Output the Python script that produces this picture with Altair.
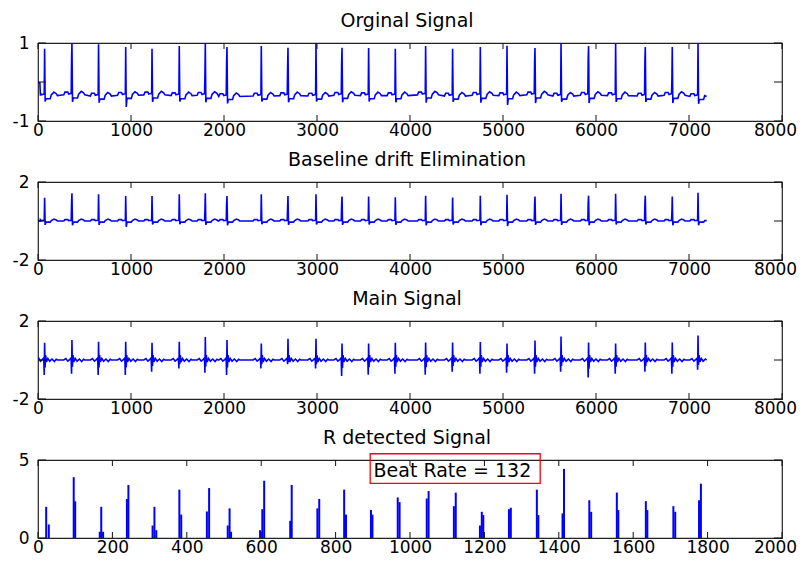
import altair as alt
import pandas as pd

# ---------------- data ----------------
beat_pos = [71, 365, 651, 943, 1226, 1519, 1799, 2032, 2401, 2688, 2989, 3269, 3555,
            3842, 4168, 4458, 4756, 5043, 5344, 5624, 5920, 6211, 6530, 6820, 7097]

# Panel 1: original signal
orig_r = [0.85, 1.0, 0.97, 0.9, 0.85, 0.92, 1.0, 0.9, 0.92, 0.88, 1.0, 0.88, 0.87,
          0.85, 0.92, 0.85, 0.9, 0.93, 0.87, 1.0, 0.92, 1.0, 0.9, 0.9, 1.0]
orig_knee = [-0.3, 0.6, -0.3, -0.3, -0.3, -0.3, 0.2, 0.5, -0.3, 0.38, -0.3, 0.52, -0.3,
             -0.3, -0.3, -0.3, -0.3, -0.3, 0.56, -0.3, 0.6, -0.3, 0.55, 0.05, -0.3]
orig_s = [-0.5, -0.51, -0.53, -0.64, -0.51, -0.5, -0.52, -0.55, -0.5, -0.52, -0.5, -0.52, -0.5,
          -0.52, -0.53, -0.51, -0.53, -0.59, -0.54, -0.51, -0.54, -0.51, -0.51, -0.54, -0.56]
orig_base = [-0.35, -0.33, -0.36, -0.34, -0.33, -0.35, -0.34, -0.37, -0.36, -0.35, -0.36, -0.34, -0.35,
             -0.35, -0.33, -0.36, -0.34, -0.35, -0.33, -0.36, -0.34, -0.35, -0.36, -0.34, -0.37]

# Panel 2: baseline drift elimination
base_r = [1.19, 1.42, 1.37, 1.28, 1.28, 1.37, 1.42, 1.28, 1.37, 1.28, 1.37, 1.25, 1.25,
          1.22, 1.3, 1.2, 1.3, 1.35, 1.25, 1.4, 1.3, 1.4, 1.3, 1.25, 1.45]
base_s = [-0.2, -0.22, -0.2, -0.3, -0.18, -0.17, -0.2, -0.22, -0.17, -0.2, -0.18, -0.2, -0.18,
          -0.2, -0.22, -0.18, -0.22, -0.26, -0.2, -0.2, -0.22, -0.18, -0.18, -0.22, -0.22]

# Panel 3: main signal
main_r = [0.89, 1.03, 0.94, 0.94, 0.89, 0.94, 1.18, 1.03, 0.85, 1.09, 1.09, 0.85, 0.85,
          0.89, 0.9, 0.9, 0.92, 0.85, 1.0, 1.2, 0.9, 0.85, 0.9, 0.9, 1.25]
main_s = [-0.77, -0.7, -0.77, -0.77, -0.6, -0.43, -0.65, -0.77, -0.43, -0.22, -0.43, -0.82, -0.75,
          -0.7, -0.75, -0.6, -0.7, -0.65, -0.7, -0.6, -0.9, -0.7, -0.6, -0.7, -0.5]

# Panel 4: R detected signal (downsampled index, amplitude)
det_x = [22, 29, 96, 100, 166, 170, 175, 239, 243, 308, 313, 318, 380, 385, 454, 460,
         510, 515, 519, 597, 603, 608, 678, 682, 751, 756, 823, 828, 895, 899, 967, 972,
         1045, 1050, 1118, 1123, 1188, 1193, 1197, 1266, 1271, 1341, 1345, 1410, 1414,
         1482, 1487, 1556, 1560, 1634, 1638, 1708, 1713, 1777, 1782]
det_y = [2.0, 0.87, 3.9, 2.35, 0.4, 2.0, 0.4, 2.5, 3.4, 0.8, 2.0, 0.5, 3.1, 1.5, 1.7, 3.2,
         0.8, 1.9, 0.4, 0.5, 1.85, 3.67, 1.1, 3.4, 1.9, 2.5, 3.1, 1.5, 1.8, 1.5, 2.6, 2.3,
         2.53, 3.01, 2.04, 2.91, 0.8, 1.68, 1.47, 1.85, 1.94, 3.1, 1.47, 1.58, 4.43,
         2.42, 1.68, 2.91, 1.79, 2.36, 1.79, 2.04, 1.68, 2.42, 3.48]

titles = ["Orginal Signal", "Baseline drift Elimination", "Main Signal", "R detected Signal"]
x_ticks_long = [0, 1000, 2000, 3000, 4000, 5000, 6000, 7000, 8000]
x_ticks_short = [0, 200, 400, 600, 800, 1000, 1200, 1400, 1600, 1800, 2000]
y_ticks = [[-1, 0, 1], [-2, 0, 2], [-2, 0, 2], [0, 5]]
signal_len = 7200

annot_text = ["Beat Rate = 132"]
annot_x = [902]
annot_y = [4.3]
annot_box = [893, 1350, 3.5, 5.4]   # x1, x2, y1, y2 in data units

# ---------------- build tables ----------------
def ecg_original():
    pts = [(0, -0.02), (20, -0.02), (26, orig_base[0])]
    for p, r, k, s, b in zip(beat_pos, orig_r, orig_knee, orig_s, orig_base):
        kk = k if k > b else b
        seg = [(p - 88, b), (p - 75, b + 0.07), (p - 45, b + 0.07), (p - 35, b + 0.02),
               (p - 8, b + 0.04), (p - 4, kk), (p, r), (p + 6, s), (p + 14, b - 0.08),
               (p + 60, b - 0.08), (p + 72, b + 0.02), (p + 100, b + 0.09),
               (p + 125, b + 0.05), (p + 138, b)]
        pts += seg
    pts = [q for q in pts if q[0] <= signal_len - 20 and (q[0] >= 26 or q[0] in (0, 20))]
    pts.append((signal_len - 10, orig_base[-1]))
    return pd.DataFrame(pts, columns=["x", "y"])


def ecg_baseline():
    pts = [(0, 0.02), (26, 0.0)]
    for p, r, k, s, b in zip(beat_pos, base_r, orig_knee, base_s, orig_base):
        kk = (k - b) if k > b else 0.0
        seg = [(p - 88, 0.0), (p - 75, 0.07), (p - 45, 0.07), (p - 35, 0.02),
               (p - 8, 0.04), (p - 4, kk), (p, r), (p + 6, s), (p + 14, -0.06),
               (p + 60, -0.06), (p + 72, 0.02), (p + 100, 0.1), (p + 125, 0.05), (p + 138, 0.0)]
        pts += seg
    pts = [q for q in pts if q[0] <= signal_len - 20 and (q[0] >= 26 or q[0] == 0)]
    pts.append((signal_len - 10, 0.02))
    return pd.DataFrame(pts, columns=["x", "y"])


def ecg_main():
    pts = [(0, 0.15), (20, 0.0)]
    for p, r, s in zip(beat_pos, main_r, main_s):
        seg = [(p - 88, 0.0), (p - 65, 0.07), (p - 45, -0.06), (p - 25, 0.02),
               (p - 9, 0.1), (p - 4, s), (p, r), (p + 5, s * 0.5), (p + 11, 0.25),
               (p + 20, -0.1), (p + 35, 0.08), (p + 55, -0.06), (p + 80, 0.05),
               (p + 105, -0.08), (p + 125, 0.04), (p + 138, 0.0)]
        pts += seg
    pts = [q for q in pts if q[0] <= signal_len - 20 and (q[0] >= 20 or q[0] == 0)]
    pts.append((signal_len - 10, 0.0))
    return pd.DataFrame(pts, columns=["x", "y"])


W, H = 744, 78
FONT = "DejaVu Sans"
BLUE = "#0000FF"
LABEL_EXPR = "'' + datum.value"


def frame_ticks(xt, yt):
    dx = pd.DataFrame({"v": xt})
    dy = pd.DataFrame({"v": yt})
    xs = alt.Scale(domain=[xt[0], xt[-1]], nice=False, zero=False)
    ys = alt.Scale(domain=[yt[0], yt[-1]], nice=False, zero=False)
    bot = alt.Chart(dx).mark_rule(color="#111", strokeWidth=1).encode(
        x=alt.X("v:Q", scale=xs), y=alt.value(H), y2=alt.value(H - 6))
    top = alt.Chart(dx).mark_rule(color="#111", strokeWidth=1).encode(
        x=alt.X("v:Q", scale=xs), y=alt.value(0), y2=alt.value(6))
    lef = alt.Chart(dy).mark_rule(color="#111", strokeWidth=1).encode(
        y=alt.Y("v:Q", scale=ys), x=alt.value(0), x2=alt.value(8))
    rig = alt.Chart(dy).mark_rule(color="#111", strokeWidth=1).encode(
        y=alt.Y("v:Q", scale=ys), x=alt.value(W), x2=alt.value(W - 8))
    return [bot, top, lef, rig]


def title_mark(t):
    return alt.Chart(pd.DataFrame({"t": [t]})).mark_text(
        font=FONT, fontSize=19, align="center", baseline="alphabetic", color="black"
    ).encode(x=alt.value(W / 2 - 3), y=alt.value(-16), text="t:N")


def axis(values, last_shift=False):
    kw = dict(values=values, title=None, labelExpr=LABEL_EXPR,
              labelFlush=False, labelOverlap=False, labelBound=False)
    if last_shift:
        kw["labelOffset"] = {"condition": {"test": "datum.value === %d" % values[-1], "value": -7},
                             "value": 0}
    return alt.Axis(**kw)


def signal_panel(df, t, yt):
    xs = alt.Scale(domain=[0, 8000], nice=False, zero=False)
    ys = alt.Scale(domain=[yt[0], yt[-1]], nice=False, zero=False)
    line = alt.Chart(df).mark_line(color=BLUE, strokeWidth=1.6, clip=True).encode(
        x=alt.X("x:Q", scale=xs, axis=axis(x_ticks_long, True)),
        y=alt.Y("y:Q", scale=ys, axis=axis(yt)),
    )
    return alt.layer(line, *frame_ticks(x_ticks_long, yt), title_mark(t)).properties(
        width=W, height=H)


p1 = signal_panel(ecg_original(), titles[0], y_ticks[0])
p2 = signal_panel(ecg_baseline(), titles[1], y_ticks[1])
p3 = signal_panel(ecg_main(), titles[2], y_ticks[2])

det_df = pd.DataFrame({"x": det_x, "y": det_y, "z": [0] * len(det_x)})
xs4 = alt.Scale(domain=[0, 2000], nice=False, zero=False)
ys4 = alt.Scale(domain=[0, 5], nice=False, zero=False)
bars = alt.Chart(det_df).mark_rule(color=BLUE, strokeWidth=2).encode(
    x=alt.X("x:Q", scale=xs4, axis=axis(x_ticks_short, True)),
    y=alt.Y("z:Q", scale=ys4, axis=axis(y_ticks[3])),
    y2="y:Q",
)
box_df = pd.DataFrame({"x1": [annot_box[0]], "x2": [annot_box[1]],
                       "y1": [annot_box[2]], "y2": [annot_box[3]]})
box = alt.Chart(box_df).mark_rect(fillOpacity=0, stroke="#FF0000", strokeWidth=1.3).encode(
    x=alt.X("x1:Q", scale=xs4), x2="x2:Q", y=alt.Y("y1:Q", scale=ys4), y2="y2:Q")
txt_df = pd.DataFrame({"t": annot_text, "x": annot_x, "y": annot_y})
txt = alt.Chart(txt_df).mark_text(font=FONT, fontSize=19, align="left", baseline="middle",
                                  color="black").encode(
    x=alt.X("x:Q", scale=xs4), y=alt.Y("y:Q", scale=ys4), text="t:N")
p4 = alt.layer(bars, *frame_ticks(x_ticks_short, y_ticks[3]), box, txt,
               title_mark(titles[3])).properties(width=W, height=H)

chart = alt.vconcat(p1, p2, p3, p4, spacing=61, bounds="flush").properties(
    padding={"left": 3, "top": 3, "right": 0, "bottom": 0}
).configure(
    background="white"
).configure_view(
    stroke="#222", strokeWidth=1.2
).configure_axis(
    domain=False, ticks=False, grid=False, labelFont=FONT, labelFontSize=17,
    labelColor="black", labelPadding=9
).configure_axisX(labelPadding=1)

chart.save("out.html", embed_options={"renderer": "svg", "actions": False})
